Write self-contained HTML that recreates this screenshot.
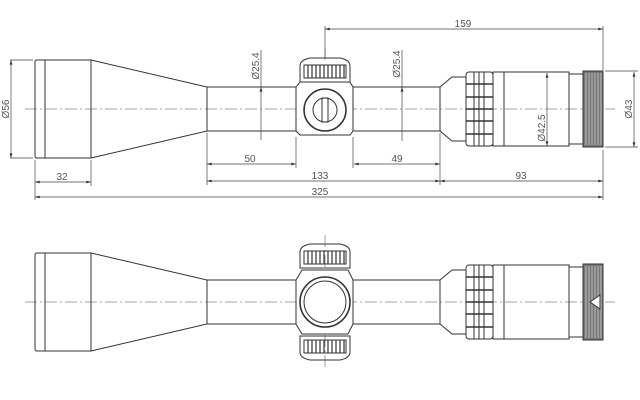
<!DOCTYPE html>
<html><head><style>html,body{margin:0;padding:0;background:#fff}svg{display:block}</style></head><body>
<svg width="640" height="400" viewBox="0 0 640 400" xmlns="http://www.w3.org/2000/svg" font-family="Liberation Sans, sans-serif">
<defs>
<marker id="a" viewBox="0 0 10 6" refX="10" refY="3" markerWidth="7" markerHeight="4" orient="auto-start-reverse"><path d="M0,0L10,3L0,6z" fill="#333"/></marker>
<g id="obj" fill="none" stroke="#333" stroke-width="1">
<path d="M37,-49H91V49H37Q35,49 35,47V-47Q35,-49 37,-49Z"/>
<line x1="45" y1="-49" x2="45" y2="49"/>
<path d="M91,-49L207,-22V22L91,49"/>
<rect x="207" y="-22" width="89" height="44"/>
<rect x="353" y="-22" width="87" height="44"/>
<path d="M440,-22L452,-32H466V32H452L440,22Z"/>
<rect x="466" y="-37" width="27" height="74" rx="3"/>
<line x1="474" y1="-37" x2="474" y2="37"/><line x1="479" y1="-37" x2="479" y2="37"/><line x1="484" y1="-37" x2="484" y2="37"/>
<path d="M466,-25h27M466,-12h27M466,0h27M466,12h27M466,25h27" stroke-width="1.6"/>
<rect x="493" y="-37" width="76" height="74"/>
<line x1="504" y1="-37" x2="504" y2="37"/>
<rect x="569" y="-35" width="14" height="70"/>
<rect x="583" y="-38" width="20" height="76" fill="#777"/>
<path d="M586,-36V36M589,-36V36M592,-36V36M595,-36V36M598,-36V36M601,-36V36" stroke="#ccc" stroke-width="0.8"/>
</g>
<g id="knob" fill="none" stroke="#333">
<path d="M300,0V-16Q300,-22 310,-24H340Q350,-22 350,-16V0Z"/>
<path d="M304,-17h42v13h-42z" stroke-width="1"/>
<path d="M308,-17v13M312,-17v13M316,-17v13M320,-17v13M324,-17v13M328,-17v13M332,-17v13M336,-17v13M340,-17v13M344,-17v13" stroke-width="1.2"/>
</g>
</defs>
<g stroke="#888" stroke-width="0.8" stroke-dasharray="12,3,2,3" fill="none">
<line x1="25" y1="109" x2="615" y2="109"/><line x1="25" y1="302" x2="615" y2="302"/>
<line x1="325" y1="235" x2="325" y2="368"/><line x1="325" y1="48" x2="325" y2="60"/>
</g>
<use href="#obj" transform="translate(0,109)"/>
<use href="#obj" transform="translate(0,302)"/>
<g fill="none" stroke="#333">
<path d="M296,87L300,82H350L353,87V131L350,135H300L296,131Z" fill="#fff"/>
<use href="#knob" transform="translate(0,82)"/>
<circle cx="325" cy="110" r="21" stroke-width="1.6"/>
<circle cx="325" cy="110" r="12"/>
<rect x="322" y="98" width="6" height="24"/>
</g>
<g fill="none" stroke="#333">
<path d="M296,280L302,270H348L353,280V324L348,334H302L296,324Z" fill="#fff"/>
<use href="#knob" transform="translate(0,268)"/>
<use href="#knob" transform="translate(0,336) scale(1,-1)"/>
<circle cx="325" cy="302" r="25" stroke-width="1.6"/>
<circle cx="325" cy="302" r="21"/>
<path d="M590,302L600,295V309Z" fill="#fff"/>
</g>
<g stroke="#444" stroke-width="0.7" fill="none">
<path d="M35,160V200M91,160V186M207,133V185M296,137V168M353,137V168M440,133V185M603,150V200M603,70V26M325,58V26M10,60H33M10,158H33M605,71H638M605,147H638"/>
<line x1="325" y1="29" x2="603" y2="29" marker-start="url(#a)" marker-end="url(#a)"/>
<line x1="11" y1="60" x2="11" y2="158" marker-start="url(#a)" marker-end="url(#a)"/>
<line x1="35" y1="182" x2="91" y2="182" marker-start="url(#a)" marker-end="url(#a)"/>
<line x1="207" y1="164" x2="296" y2="164" marker-start="url(#a)" marker-end="url(#a)"/>
<line x1="354" y1="164" x2="440" y2="164" marker-start="url(#a)" marker-end="url(#a)"/>
<line x1="207" y1="181" x2="440" y2="181" marker-start="url(#a)" marker-end="url(#a)"/>
<line x1="440" y1="181" x2="603" y2="181" marker-start="url(#a)" marker-end="url(#a)"/>
<line x1="35" y1="197" x2="603" y2="197" marker-start="url(#a)" marker-end="url(#a)"/>
<line x1="261" y1="50" x2="261" y2="87"/><line x1="261" y1="87" x2="261" y2="140" marker-start="url(#a)"/>
<line x1="402" y1="50" x2="402" y2="87"/><line x1="402" y1="87" x2="402" y2="141" marker-start="url(#a)"/>
<line x1="547" y1="73" x2="547" y2="146" marker-start="url(#a)" marker-end="url(#a)"/>
<line x1="634" y1="72" x2="634" y2="147" marker-start="url(#a)" marker-end="url(#a)"/>
</g>
<g fill="#555" font-size="10">
<text x="463" y="27" text-anchor="middle">159</text>
<text x="62" y="180" text-anchor="middle">32</text>
<text x="250" y="162" text-anchor="middle">50</text>
<text x="397" y="162" text-anchor="middle">49</text>
<text x="320" y="179" text-anchor="middle">133</text>
<text x="521" y="179" text-anchor="middle">93</text>
<text x="320" y="195" text-anchor="middle">325</text>
<text transform="translate(9,109) rotate(-90)" text-anchor="middle">Ø56</text>
<text transform="translate(259,66) rotate(-90)" text-anchor="middle">Ø25.4</text>
<text transform="translate(400,64) rotate(-90)" text-anchor="middle">Ø25.4</text>
<text transform="translate(545,128) rotate(-90)" text-anchor="middle">Ø42.5</text>
<text transform="translate(632,109) rotate(-90)" text-anchor="middle">Ø43</text>
</g>
</svg>
</body></html>
